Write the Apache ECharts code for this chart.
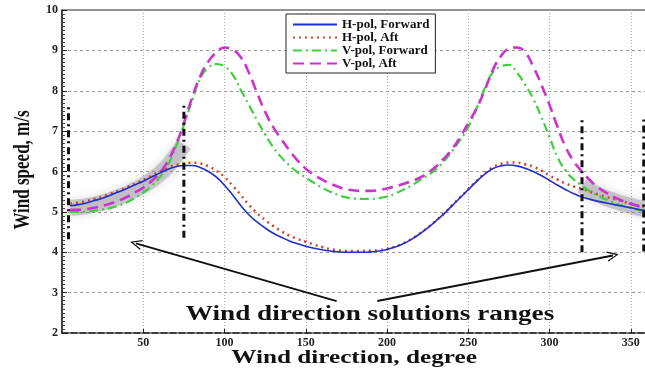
<!DOCTYPE html>
<html>
<head>
<meta charset="utf-8">
<script src="https://cdn.jsdelivr.net/npm/echarts@6/dist/echarts.min.js"></script>
<style>
  html, body { margin: 0; padding: 0; background: #fff; }
  #chart { width: 645px; height: 370px; }
</style>
</head>
<body>
<div id="chart"></div>
<script>
// wind direction, degree (5 deg steps)
const angles = [5, 10, 15, 20, 25, 30, 35, 40, 45, 50, 55, 60, 65, 70, 75, 80, 85, 90, 95, 100,
  105, 110, 115, 120, 125, 130, 135, 140, 145, 150, 155, 160, 165, 170, 175, 180, 185, 190, 195, 200,
  205, 210, 215, 220, 225, 230, 235, 240, 245, 250, 255, 260, 265, 270, 275, 280, 285, 290, 295, 300,
  305, 310, 315, 320, 325, 330, 335, 340, 345, 350, 355, 360]

const hPolForward = [5.15, 5.18, 5.22, 5.28, 5.34, 5.42, 5.5, 5.58, 5.67, 5.76, 5.86, 5.96, 6.05, 6.12, 6.15, 6.15, 6.1, 6.0, 5.86, 5.66,
  5.42, 5.16, 4.93, 4.75, 4.6, 4.47, 4.37, 4.28, 4.21, 4.15, 4.1, 4.06, 4.03, 4.01, 4.0, 4.0, 4.0, 4.01, 4.03, 4.07,
  4.13, 4.21, 4.32, 4.45, 4.6, 4.77, 4.95, 5.15, 5.35, 5.55, 5.75, 5.93, 6.07, 6.14, 6.16, 6.14, 6.08, 6.0, 5.9, 5.78,
  5.66, 5.55, 5.45, 5.37, 5.31, 5.26, 5.22, 5.18, 5.14, 5.1, 5.06, 5.03]

const hPolAft = [5.2, 5.23, 5.27, 5.32, 5.38, 5.45, 5.53, 5.61, 5.7, 5.79, 5.89, 5.99, 6.08, 6.16, 6.2, 6.22, 6.2, 6.13, 6.02, 5.86,
  5.65, 5.42, 5.18, 4.97, 4.8, 4.65, 4.52, 4.41, 4.33, 4.26, 4.19, 4.13, 4.08, 4.05, 4.03, 4.03, 4.03, 4.04, 4.05, 4.08,
  4.14, 4.22, 4.33, 4.46, 4.61, 4.78, 4.96, 5.16, 5.36, 5.56, 5.76, 5.95, 6.1, 6.19, 6.22, 6.22, 6.18, 6.12, 6.02, 5.9,
  5.8, 5.7, 5.63, 5.57, 5.5, 5.43, 5.37, 5.32, 5.26, 5.2, 5.15, 5.1]

const vPolForward = [5.0, 5.0, 5.01, 5.03, 5.06, 5.1, 5.16, 5.24, 5.35, 5.48, 5.64, 5.85, 6.15, 6.6, 7.15, 7.75, 8.3, 8.57, 8.66, 8.6,
  8.4, 8.02, 7.65, 7.27, 6.92, 6.6, 6.35, 6.15, 5.98, 5.85, 5.72, 5.6, 5.5, 5.42, 5.36, 5.33, 5.32, 5.32, 5.34, 5.38,
  5.45, 5.55, 5.65, 5.78, 5.9, 6.05, 6.25, 6.5, 6.78, 7.1, 7.55, 8.05, 8.45, 8.6, 8.64, 8.45, 8.15, 7.8, 7.35, 6.85,
  6.35, 6.02, 5.8, 5.65, 5.5, 5.4, 5.3, 5.22, 5.15, 5.1, 5.05, 5.02]

const vPolAft = [5.05, 5.05, 5.07, 5.1, 5.15, 5.21, 5.28, 5.37, 5.48, 5.6, 5.76, 5.95, 6.25, 6.65, 7.2, 7.82, 8.35, 8.72, 8.95, 9.07,
  9.02, 8.83, 8.45, 7.95, 7.48, 7.1, 6.8, 6.52, 6.27, 6.07, 5.92, 5.8, 5.7, 5.62, 5.56, 5.53, 5.52, 5.52, 5.54, 5.58,
  5.63, 5.69, 5.76, 5.84, 5.96, 6.12, 6.32, 6.55, 6.85, 7.2, 7.55, 8.0, 8.5, 8.85, 9.04, 9.07, 8.95, 8.6, 8.15, 7.65,
  7.1, 6.6, 6.25, 6.0, 5.78, 5.6, 5.47, 5.36, 5.27, 5.2, 5.14, 5.1]

// solution range markers: [direction, bottom, top]
const rangeMarkers = [[4, 4.32, 7.65], [75, 4.36, 7.72], [320, 4.0, 7.36], [358, 4.02, 7.35]]
// shaded solution ranges (degree)
const solutionRanges = [[5, 75], [320, 360]]
// annotation arrows: [tailX, tailY, headX, headY]
const arrows = [[169, 2.79, 45.5, 4.22], [194, 2.79, 339, 3.92]]

const xTicks = { min: 0, max: 360, interval: 50 }
const yTicks = { min: 2, max: 10, interval: 1 }

const serif = 'Liberation Serif'
const chart = echarts.init(document.getElementById('chart'))

function pairs(values) {
  return angles.map((a, i) => [a, values[i]])
}

// mean of the four curves inside a solution range, for the grey blurred band
function bandData(range) {
  const out = []
  angles.forEach((a, i) => {
    if (a >= range[0] && a <= range[1]) {
      out.push([a, (hPolForward[i] + hPolAft[i] + vPolForward[i] + vPolAft[i]) / 4])
    }
  })
  return out
}

const series = []

solutionRanges.forEach(r => {
  series.push({
    type: 'line',
    data: bandData(r),
    smooth: true,
    symbol: 'none',
    silent: true,
    z: 1,
    lineStyle: {
      width: 16,
      color: 'rgba(140,140,150,0.4)',
      shadowBlur: 10,
      shadowColor: 'rgba(120,120,130,0.6)'
    }
  })
})

series.push(
  {
    name: 'H-pol, Forward',
    type: 'line',
    data: pairs(hPolForward),
    smooth: true,
    symbol: 'none',
    z: 5,
    lineStyle: { color: '#1f2fcc', width: 1.6, type: 'solid' }
  },
  {
    name: 'H-pol, Aft',
    type: 'line',
    data: pairs(hPolAft),
    smooth: true,
    symbol: 'none',
    z: 4,
    lineStyle: { color: '#d0442a', width: 2.5, type: [2, 4] }
  },
  {
    name: 'V-pol, Forward',
    type: 'line',
    data: pairs(vPolForward),
    smooth: true,
    symbol: 'none',
    z: 4,
    lineStyle: { color: '#3fd03f', width: 2.2, type: [9, 4, 2, 4] }
  },
  {
    name: 'V-pol, Aft',
    type: 'line',
    data: pairs(vPolAft),
    smooth: true,
    symbol: 'none',
    z: 4,
    lineStyle: { color: '#cc33cc', width: 2.6, type: [11, 6] }
  }
)

rangeMarkers.forEach(m => {
  series.push({
    type: 'line',
    data: [[m[0], m[1]], [m[0], m[2]]],
    symbol: 'none',
    silent: true,
    z: 6,
    lineStyle: { color: '#111', width: 3, type: [7, 4, 2, 4] }
  })
})

const arrowHead = 'path://M0,12L6,0L12,12L10.6,12.6L6,3L1.4,12.6Z'
series.push({
  type: 'line',
  data: [],
  silent: true,
  markLine: {
    silent: true,
    symbol: ['none', arrowHead],
    symbolSize: [10, 12],
    label: { show: false },
    lineStyle: { color: '#111', width: 2, type: 'solid' },
    data: arrows.map(a => [{ coord: [a[0], a[1]] }, { coord: [a[2], a[3]] }])
  }
})

const option = {
  animation: false,
  backgroundColor: '#fff',
  grid: {
    left: 62, right: -2, top: 10, bottom: 37,
    outerBoundsMode: 'none',
    containLabel: false,
    show: true, borderColor: '#222', borderWidth: 1
  },
  legend: {
    orient: 'vertical',
    left: 286, top: 14,
    data: ['H-pol, Forward', 'H-pol, Aft', 'V-pol, Forward', 'V-pol, Aft'],
    itemWidth: 44, itemHeight: 8, itemGap: 0,
    padding: [4, 6, 3, 6],
    backgroundColor: '#fff',
    borderColor: '#222',
    borderWidth: 1,
    borderRadius: 0,
    itemStyle: { opacity: 0 },
    textStyle: { fontFamily: serif, fontWeight: 'bold', fontSize: 13, lineHeight: 13, color: '#111' }
  },
  xAxis: {
    type: 'value',
    min: xTicks.min, max: xTicks.max, interval: xTicks.interval,
    axisLine: { show: true, lineStyle: { color: '#222', width: 1.5, type: 'dashed' } },
    axisTick: { show: true, inside: true, length: 4, lineStyle: { color: '#222' } },
    axisLabel: {
      showMinLabel: false, showMaxLabel: false, margin: 4,
      fontFamily: serif, fontWeight: 'bold', fontSize: 12, color: '#222'
    },
    splitLine: { show: true, lineStyle: { color: '#aaa', type: [1, 2] } }
  },
  yAxis: {
    type: 'value',
    min: yTicks.min, max: yTicks.max, interval: yTicks.interval,
    axisLine: { show: true, lineStyle: { color: '#222', width: 1.5 } },
    axisTick: { show: true, inside: true, length: 5, lineStyle: { color: '#222' } },
    minorTick: { show: true, splitNumber: 10, length: 3, lineStyle: { color: '#444' } },
    axisLabel: { margin: 4, fontFamily: serif, fontWeight: 'bold', fontSize: 12, color: '#222' },
    splitLine: { show: true, lineStyle: { color: '#999', type: [3, 3] } }
  },
  graphic: [
    {
      type: 'text',
      x: 370, y: 315, scaleX: 1.36,
      z: 10,
      style: {
        text: 'Wind direction solutions ranges',
        align: 'center', verticalAlign: 'middle',
        fontFamily: serif, fontWeight: 'bold', fontSize: 20, fill: '#111'
      }
    },
    {
      type: 'text',
      x: 354, y: 358, scaleX: 1.4,
      z: 10,
      style: {
        text: 'Wind direction, degree',
        align: 'center', verticalAlign: 'middle',
        fontFamily: serif, fontWeight: 'bold', fontSize: 18, fill: '#111'
      }
    },
    {
      type: 'text',
      x: 23, y: 170, rotation: Math.PI / 2, scaleY: 1.3,
      z: 10,
      style: {
        text: 'Wind speed, m/s',
        align: 'center', verticalAlign: 'middle',
        fontFamily: serif, fontWeight: 'bold', fontSize: 17, fill: '#111'
      }
    }
  ],
  series: series
}

chart.setOption(option)
</script>
</body>
</html>
